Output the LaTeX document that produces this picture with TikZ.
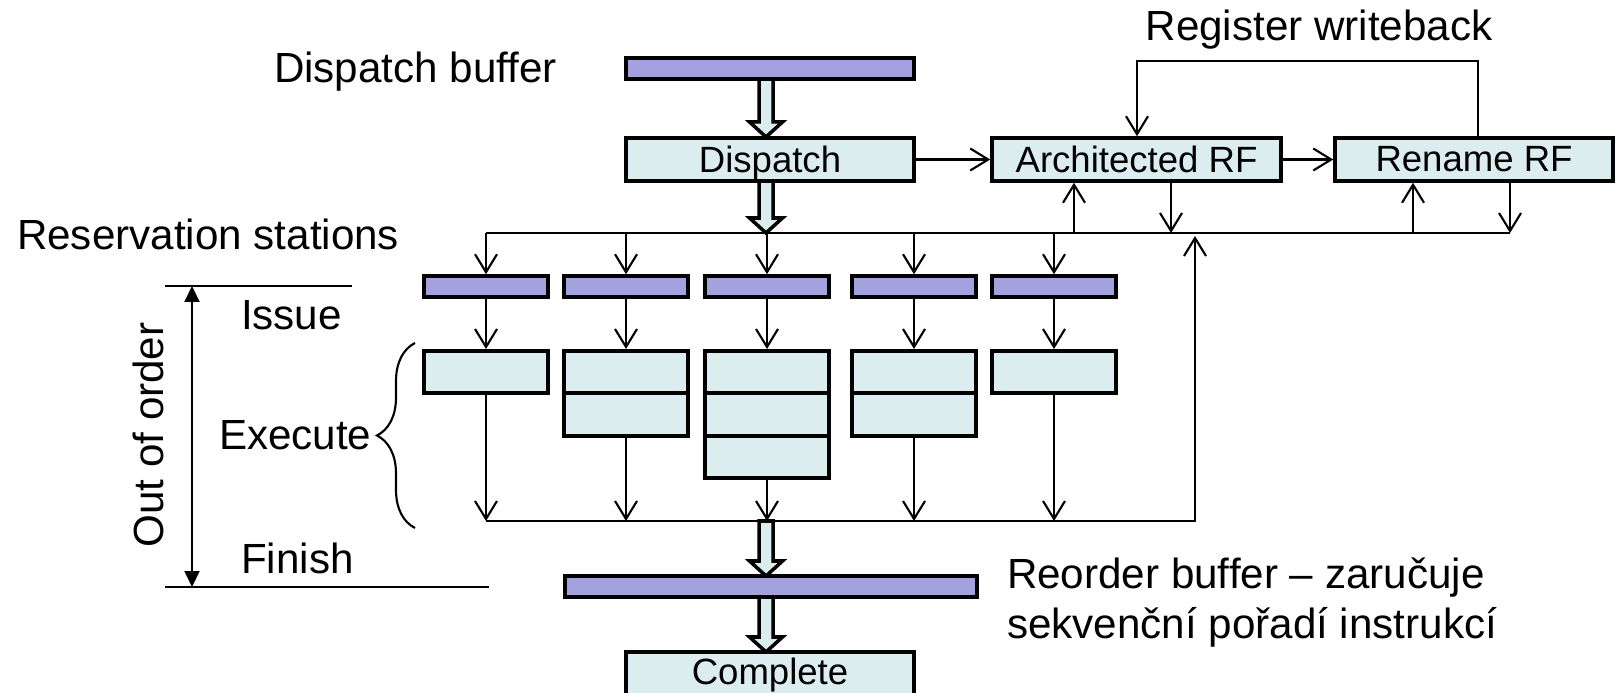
\documentclass[tikz,border=0pt]{standalone}
\usepackage{fontspec}
\setmainfont{Liberation Sans}
\usetikzlibrary{arrows.meta,decorations.pathreplacing}
\definecolor{barblue}{RGB}{164,162,222}
\definecolor{unitcyan}{RGB}{219,237,239}

\begin{document}
\begin{tikzpicture}[x=0.1mm, y=-0.1mm, line width=0.6pt,
    >={Straight Barb[length=1.8mm,width=2.2mm]},
    box/.style={draw, line width=1pt, fill=unitcyan, inner sep=0pt, minimum height=4.3mm, font=\fontsize{10.4pt}{12pt}\selectfont},
    bar/.style={draw, line width=1pt, fill=barblue, inner sep=0pt, minimum height=2.1mm},
    cell/.style={draw, line width=1pt, fill=unitcyan, inner sep=0pt, minimum width=12.4mm, minimum height=4.25mm},
    lbl/.style={inner sep=0pt, font=\fontsize{12pt}{14pt}\selectfont}]
    \useasboundingbox (0,0) rectangle (1616,693);

    % wide hollow arrows of the main path
    \foreach \ya/\yb in {79/137, 181/233, 521/576, 597/652}
      \draw[line width=1pt, fill=unitcyan] (759,\ya) -- (759,\yb-15) -- (749.5,\yb-15) -- (766,\yb) -- (782.5,\yb-15) -- (773,\yb-15) -- (773,\ya) -- cycle;

    \node[bar, minimum width=28.8mm] (dbuf) at (770,68.5) {};
    \node[box, minimum width=28.8mm, text depth=0pt] (disp) at (770,159.5) {Dispatch};
    \node[box, minimum width=28.9mm] (arch) at (1136.5,159.5) {Architected RF};
    \node[box, minimum width=27.8mm] (ren) at (1474,159.5) {Rename RF};

    \node[bar, minimum width=12.4mm] (rs1) at (486,286.5) {};
    \node[bar, minimum width=12.4mm] (rs2) at (626,286.5) {};
    \node[bar, minimum width=12.4mm] (rs3) at (767,286.5) {};
    \node[bar, minimum width=12.4mm] (rs4) at (914,286.5) {};
    \node[bar, minimum width=12.4mm] (rs5) at (1054,286.5) {};

    \node[cell] (ex1) at (486,372) {};
    \node[cell] (ex2a) at (626,372) {};
    \node[cell] (ex2b) at (626,414.5) {};
    \node[cell] (ex3a) at (767,372) {};
    \node[cell] (ex3b) at (767,414.5) {};
    \node[cell] (ex3c) at (767,457) {};
    \node[cell] (ex4a) at (914,372) {};
    \node[cell] (ex4b) at (914,414.5) {};
    \node[cell] (ex5) at (1054,372) {};

    \node[bar, minimum width=41.2mm] (rob) at (771,586.5) {};
    \node[box, minimum width=28.8mm, minimum height=4.7mm] (comp) at (770,675.5) {Complete};

    \node[lbl, anchor=base west] (tdbuf) at (273,83) {Dispatch buffer};
    \node[lbl, anchor=base] (twb) at (1319,41) {Register writeback};
    \node[lbl, anchor=base west] (trs) at (16,250) {Reservation stations};
    \node[lbl, anchor=base west] (tiss) at (240,330) {Issue};
    \node[lbl, anchor=base west] (texe) at (218,449) {Execute};
    \node[lbl, anchor=base west] (tfin) at (240,573) {Finish};
    \node[lbl, anchor=base, rotate=90] (tooo) at (163,435) {Out of order};
    \node[lbl, anchor=base west] (trob1) at (1006,588) {Reorder buffer – zaručuje};
    \node[lbl, anchor=base west] (trob2) at (1006,638) {sekvenční pořadí instrukcí};

    \coordinate (busL) at (486,233);
    \coordinate (busR) at (1510,233);
    \coordinate (archup) at (1074,233);
    \coordinate (archdn) at (1171,233);
    \coordinate (renup) at (1413,233);
    \coordinate (wbl) at (1137,61);
    \coordinate (wbr) at (1478,61);
    \coordinate (finL) at (486,521);
    \coordinate (finR) at (1195,521);
    \coordinate (fintop) at (1195,236);
    \coordinate (ooT) at (192,286);
    \coordinate (ooB) at (192,587);

    \draw[->] (disp) -- (arch);
    \draw[->] (arch) -- (ren);
    \draw[->] (wbr |- ren.north) -- (wbr) -- (wbl) -- (wbl |- arch.north);

    \draw (busL) -- (busR);
    \draw[->] (archup) -- (archup |- arch.south);
    \draw[->] (archdn |- arch.south) -- (archdn);
    \draw[->] (renup) -- (renup |- ren.south);
    \draw[->] (busR |- ren.south) -- (busR);

    \foreach \i in {1,...,5}
      \draw[->] (rs\i.north |- busL) -- (rs\i.north);
    \draw[->] (rs1) -- (ex1);
    \draw[->] (rs2) -- (ex2a);
    \draw[->] (rs3) -- (ex3a);
    \draw[->] (rs4) -- (ex4a);
    \draw[->] (rs5) -- (ex5);

    \draw[->] (ex1.south) -- (ex1.south |- finL);
    \draw[->] (ex2b.south) -- (ex2b.south |- finL);
    \draw[->] (ex3c.south) -- (ex3c.south |- finL);
    \draw[->] (ex4b.south) -- (ex4b.south |- finL);
    \draw[->] (ex5.south) -- (ex5.south |- finL);
    \draw[->] (finL) -- (finR) -- (fintop);

    % left side: out of order span
    \draw (165,286) -- (352,286);
    \draw (165,587) -- (489,587);
    \draw[{Triangle[length=1.6mm,width=1.5mm]}-{Triangle[length=1.6mm,width=1.5mm]}] (ooT) -- (ooB);
    \draw[decorate, decoration={brace, amplitude=3.8mm}] (415,528) -- (415,343);
\end{tikzpicture}
\end{document}
